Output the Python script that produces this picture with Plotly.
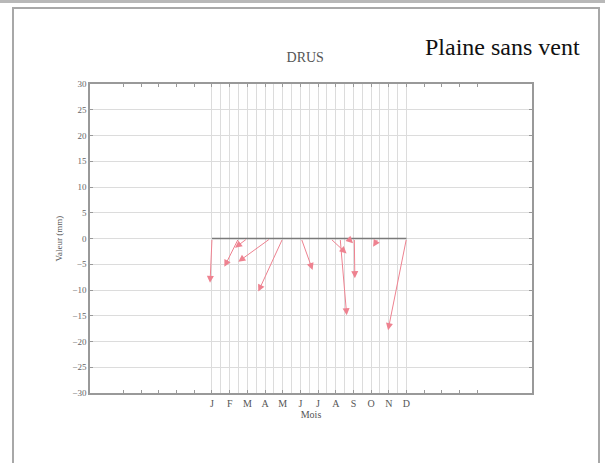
import plotly.graph_objects as go

# axe des x en mois (1 = janvier ... 12 = décembre)
month_ticks = list(range(-4, 17))
month_names = ["J", "F", "M", "A", "M", "J", "J", "A", "S", "O", "N", "D"]
grid_months = [1 + k * 0.5 for k in range(23)]

# vecteurs : pied sur la ligne zéro, pointe en (head_x, head_y)
tail_x = [1.0, 2.5, 3.0, 4.3, 5.0, 6.05, 7.7, 8.25, 8.7, 9.05, 10.4, 12.0]
tail_y = [0, 0, 0, 0, 0, 0, 0, 0, 0, 0, 0, 0]
head_x = [0.89, 1.70, 2.3, 2.49, 3.62, 6.69, 8.61, 8.62, 8.98, 9.08, 10.11, 10.96]
head_y = [-8.6, -5.5, -1.8, -4.5, -10.3, -6.1, -2.9, -14.9, -0.9, -7.7, -1.6, -17.8]

base_x = [1, 12]
base_y = [0, 0]

y_ticks = list(range(-30, 31, 5))

W, H = 605, 463
L, R, T, B = 90, 73, 84, 70
PW, PH = W - L - R, H - T - B

ARROW = "#ee8290"
SERIF = "Liberation Serif"


def px_x(p):
    return (p - L) / PW


def px_y(p):
    return (H - B - p) / PH


fig = go.Figure()
fig.add_trace(
    go.Scatter(
        x=base_x,
        y=base_y,
        mode="lines",
        line=dict(color="#7a7a7a", width=1.5),
        showlegend=False,
        hoverinfo="skip",
    )
)

for x0, y0, x1, y1 in zip(tail_x, tail_y, head_x, head_y):
    fig.add_annotation(
        x=x1, y=y1, ax=x0, ay=y0,
        xref="x", yref="y", axref="x", ayref="y",
        text="", showarrow=True,
        arrowhead=2, arrowsize=1.4, arrowwidth=1, arrowcolor=ARROW,
    )

# cadre de la page scannée
fig.add_shape(type="line", xref="paper", yref="paper",
              x0=px_x(0), x1=px_x(W), y0=px_y(1.5), y1=px_y(1.5),
              line=dict(color="#b8b8b8", width=3))
fig.add_shape(type="rect", xref="paper", yref="paper",
              x0=px_x(13), x1=px_x(599), y0=px_y(470), y1=px_y(8),
              line=dict(color="#a8a8a8", width=2))

fig.add_annotation(
    x=px_x(582), y=px_y(47), xref="paper", yref="paper",
    xanchor="right", yanchor="middle", showarrow=False,
    text="Plaine sans vent", font=dict(family=SERIF, size=24, color="#111"),
)

fig.update_layout(
    width=W,
    height=H,
    margin=dict(l=L, r=R, t=T, b=B),
    paper_bgcolor="#ffffff",
    plot_bgcolor="#ffffff",
    font=dict(family=SERIF, color="#666", size=9),
    title=dict(
        text="DRUS", x=px_x(313), xanchor="center",
        y=1 - 57 / H, yanchor="middle",
        font=dict(family=SERIF, size=14, color="#555"),
    ),
    showlegend=False,
)
fig.update_xaxes(
    range=[-5.9, 19.1],
    tickmode="array",
    tickvals=month_ticks,
    ticktext=["" if not 1 <= m <= 12 else month_names[m - 1] for m in month_ticks],
    ticks="inside",
    ticklen=3,
    tickcolor="#999",
    tickfont=dict(size=10, color="#555"),
    showgrid=False,
    zeroline=False,
    showline=True,
    linecolor="#999",
    linewidth=1.5,
    mirror="allticks",
    minor=dict(tickvals=grid_months, showgrid=True, gridcolor="#dcdcdc",
               gridwidth=1, ticks=""),
    title=dict(text="Mois", standoff=2, font=dict(family=SERIF, size=10, color="#555")),
)
fig.update_yaxes(
    range=[-30, 30],
    tickmode="array",
    tickvals=y_ticks,
    ticks="inside",
    ticklen=3,
    tickcolor="#999",
    showgrid=True,
    gridcolor="#dcdcdc",
    zeroline=False,
    showline=True,
    linecolor="#999",
    linewidth=1.5,
    mirror="allticks",
    title=dict(text="Valeur (mm)", standoff=8, font=dict(family=SERIF, size=9, color="#555")),
)

fig.write_html(
    "out.html",
    config={"displayModeBar": False},
    post_script="document.body.style.margin='0';document.body.style.overflow='hidden';",
)
